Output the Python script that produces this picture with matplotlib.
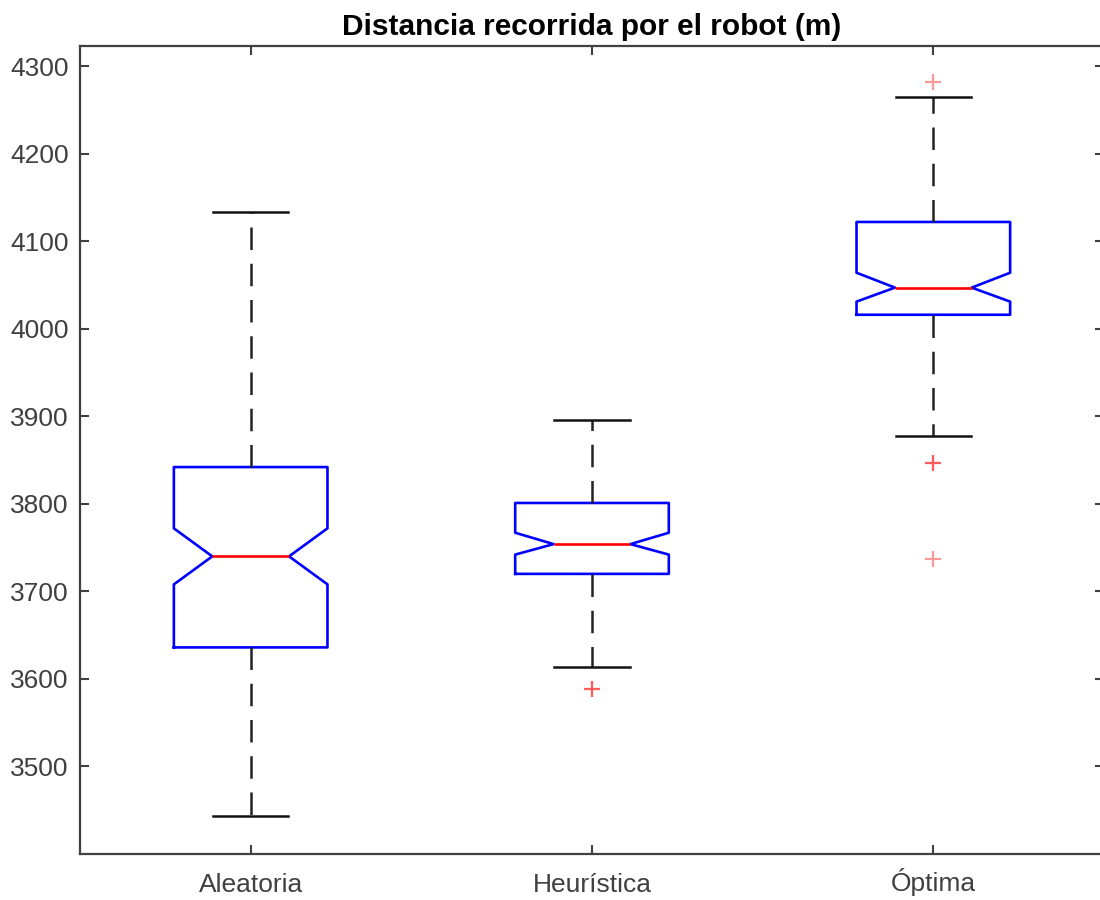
import matplotlib.pyplot as plt

# values (m)
labels = ['Aleatoria', 'Heurística', 'Óptima']
medians = [3740, 3754, 4047]
q1 = [3636, 3720, 4016]
q3 = [3842, 3801, 4122]
notch_lo = [3708, 3742, 4031]
notch_hi = [3772, 3767, 4064]
whisk_lo = [3443, 3614, 3877]
whisk_hi = [4133, 3896, 4265]
outliers = [[], [3589, 3589], [4282, 3847, 3847, 3737]]

plt.rcParams['font.family'] = ['Liberation Sans', 'DejaVu Sans']

stats = []
for i in range(len(labels)):
    stats.append(dict(label=labels[i], med=medians[i], q1=q1[i], q3=q3[i],
                      cilo=notch_lo[i], cihi=notch_hi[i],
                      whislo=whisk_lo[i], whishi=whisk_hi[i],
                      fliers=outliers[i]))

fig = plt.figure(figsize=(11, 9), dpi=100)
ax = fig.add_axes([80/1100, 46/900, 1024/1100, 808/900])

ax.bxp(stats, positions=[1, 2, 3], widths=0.45, capwidths=0.22,
       shownotches=True, patch_artist=False,
       boxprops=dict(color='#0000ff', linewidth=1.9),
       medianprops=dict(color='#ff0000', linewidth=1.9),
       whiskerprops=dict(color='#222222', linewidth=1.8, linestyle=(0, (9, 5.5))),
       capprops=dict(color='#111111', linewidth=1.8),
       flierprops=dict(marker='+', markeredgecolor='#ff0000', markersize=12,
                       markeredgewidth=1.6, alpha=0.4, linestyle='none'))

ax.set_xlim(0.5, 3.5)
ax.set_ylim(3400, 4323)
ax.set_yticks(range(3500, 4301, 100))
ax.set_xticks([1, 2, 3])
ax.set_xticklabels(labels)

for s in ax.spines.values():
    s.set_color('#404040')
    s.set_linewidth(1.6)
# right edge of the box falls just outside the picture
ax.spines['right'].set_visible(False)
ax.tick_params(direction='in', length=6.5, width=1.5, color='#404040',
               labelcolor='#404040', labelsize=19, top=True, right=True, pad=8)
ax.tick_params(axis='x', pad=27)
for t in ax.get_xticklabels():
    t.set_verticalalignment('baseline')

ax.set_title('Distancia recorrida por el robot (m)', fontsize=21.5,
             fontweight='bold', pad=8)

fig.savefig('out.png', dpi=100)
